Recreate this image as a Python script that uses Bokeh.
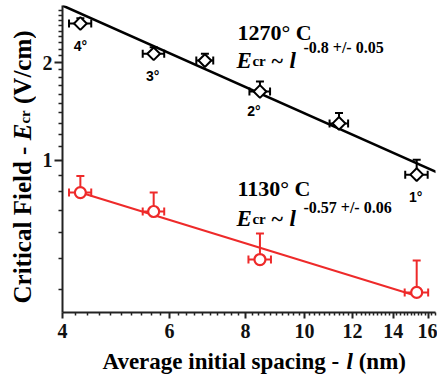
import math
from bokeh.plotting import figure
from bokeh.layouts import row, column
from bokeh.models import (ColumnDataSource, Whisker, TeeHead, Label, FixedTicker,
                          PrintfTickFormatter, Range1d)
from bokeh.core.properties import value
from bokeh.embed import file_html
from bokeh.resources import INLINE

# ---------------- data ----------------
x_ticks = [4, 6, 8, 10, 12, 14, 16]
y_ticks = [1, 2]

spacing_1270 = [4.28, 5.65, 6.86, 8.45, 11.4, 15.3]
field_1270 = [2.64, 2.13, 2.03, 1.63, 1.30, 0.904]
xerr_1270 = [0.18, 0.23, 0.22, 0.33, 0.40, 0.65]
yerr_1270 = [0.10, 0.10, 0.10, 0.12, 0.10, 0.10]
order_labels = ["4°", "3°", "", "2°", "", "1°"]

spacing_1130 = [4.28, 5.65, 8.45, 15.3]
field_1130 = [0.796, 0.696, 0.495, 0.392]
xerr_1130 = [0.18, 0.23, 0.36, 0.68]
yerr_1130 = [0.10, 0.10, 0.10, 0.10]

fit_1270_x = [4.0, 16.6]
fit_1270_y = [3.0, 0.915]
fit_1130_x = [4.28, 15.4]
fit_1130_y = [0.796, 0.381]

RED = "#ee2a2a"
SERIF = "Liberation Serif"
SANS = "Liberation Sans"

TOTAL_W, TOTAL_H = 437, 377
YLAB_W = 36
MAIN_H = 345
# frame box in page pixels
F_LEFT, F_RIGHT, F_TOP, F_BOTTOM = 62, 435, 5, 312

p = figure(width=TOTAL_W - YLAB_W, height=MAIN_H, x_axis_type="log", y_axis_type="log",
           x_range=Range1d(4, 16.43), y_range=Range1d(0.34, 3.0),
           output_backend="svg", toolbar_location=None, title=None,
           min_border_left=F_LEFT - YLAB_W, min_border_right=TOTAL_W - F_RIGHT,
           min_border_top=F_TOP, min_border_bottom=MAIN_H - F_BOTTOM)
p.outline_line_color = None
p.grid.visible = False
p.background_fill_color = "white"

# ---- axes ----
minor_x = [round(4 + 0.2 * i, 1) for i in range(63)]
minor_x = [v for v in minor_x if v not in x_ticks]
minor_y = [0.4, 0.5, 0.6, 0.7, 0.8, 0.9, 1.1, 1.2, 1.3, 1.4, 1.5, 1.6, 1.7, 1.8, 1.9,
           2.1, 2.2, 2.3, 2.4, 2.5, 2.6, 2.7, 2.8, 2.9]
p.xaxis.ticker = FixedTicker(ticks=x_ticks, minor_ticks=minor_x)
p.yaxis.ticker = FixedTicker(ticks=y_ticks, minor_ticks=minor_y)
p.xaxis.formatter = PrintfTickFormatter(format="%d")
p.yaxis.formatter = PrintfTickFormatter(format="%d")
for ax in (p.xaxis, p.yaxis):
    ax.axis_line_width = 2
    ax.axis_line_color = "#222222"
    ax.major_tick_line_width = 2
    ax.major_tick_line_color = "#222222"
    ax.minor_tick_line_width = 1.5
    ax.minor_tick_line_color = "#222222"
    ax.major_tick_in = 0
    ax.minor_tick_in = 0
    ax.major_label_text_font = SERIF
    ax.major_label_text_font_style = "bold"
    ax.major_label_text_font_size = "20px"
    ax.major_label_text_color = "#111111"
p.xaxis.major_tick_out = 6
p.xaxis.minor_tick_out = 3
p.xaxis.major_label_standoff = 5
p.yaxis.major_tick_out = 8
p.yaxis.minor_tick_out = 4
p.yaxis.major_label_standoff = 2

# ---- fit lines ----
p.line(fit_1270_x, fit_1270_y, line_color="black", line_width=2.5)
p.line(fit_1130_x, fit_1130_y, line_color=RED, line_width=2)


# ---- error bars ----
def err_source(xs, ys, xe, ye):
    return ColumnDataSource(dict(
        x=xs, y=ys,
        xl=[a - e for a, e in zip(xs, xe)],
        xu=[a + e for a, e in zip(xs, xe)],
        yu=[b + e for b, e in zip(ys, ye)],
    ))


src_b = err_source(spacing_1270, field_1270, xerr_1270, yerr_1270)
src_r = err_source(spacing_1130, field_1130, xerr_1130, yerr_1130)

for src, col in ((src_b, "black"), (src_r, RED)):
    wx = Whisker(source=src, base="y", lower="xl", upper="xu", dimension="width",
                 line_color=col, line_width=2, level="underlay",
                 lower_head=TeeHead(size=8, line_color=col, line_width=2),
                 upper_head=TeeHead(size=8, line_color=col, line_width=2))
    wy = Whisker(source=src, base="x", lower="y", upper="yu", dimension="height",
                 line_color=col, line_width=2, level="underlay",
                 lower_head=None,
                 upper_head=TeeHead(size=8, line_color=col, line_width=2))
    p.add_layout(wx)
    p.add_layout(wy)

# ---- markers ----
p.scatter(x="x", y="y", source=src_b, marker="square", angle=math.pi / 4, size=9,
          fill_color="white", line_color="black", line_width=2)
p.scatter(x="x", y="y", source=src_r, marker="circle", size=11,
          fill_color="white", line_color=RED, line_width=2.2)


def add_text(text, x, y, dx, dy, size, style="bold", font=SERIF,
             align="left", baseline="alphabetic", color="black"):
    p.add_layout(Label(x=x, y=y, x_offset=dx, y_offset=dy, text=text,
                       text_font=font, text_font_style=style,
                       text_font_size=f"{size}px",
                       text_align=align, text_baseline=baseline,
                       text_color=color))


# order labels under the 1270 points
label_offsets = [(0, -22), (-1, -22), (0, 0), (-6, -19), (0, 0), (-1, -22)]
for xv, yv, t, (ox, oy) in zip(spacing_1270, field_1270, order_labels, label_offsets):
    if t:
        add_text(t, xv, yv, ox, oy, 14, font=SANS, align="center", baseline="middle")

# ---- annotation groups ----
for (ax_, ay_), temp, expo, dE, dS in (
        ((7.76, 2.474), "1270° C", "-0.8 +/- 0.05", -28, -15),
        ((7.76, 0.819), "1130° C", "-0.57 +/- 0.06", -30, -19)):
    add_text(temp, ax_, ay_, 0, 0, 22)
    add_text("E", ax_, ay_, -1, dE, 23, style="bold italic")
    add_text("cr", ax_, ay_, 15, dE, 15)
    add_text("~", ax_, ay_, 34, dE, 22)
    add_text("l", ax_, ay_, 52, dE, 23, style="bold italic")
    add_text(expo, ax_, ay_, 66, dS, 16)


# ---- axis titles (separate text panels, in page-pixel coordinates) ----
def text_panel(w, h, xr, yr, bl, br, bt, bb):
    f = figure(width=w, height=h, x_range=Range1d(*xr), y_range=Range1d(*yr),
               output_backend="svg", toolbar_location=None, title=None,
               x_axis_location=None, y_axis_location=None,
               min_border_left=bl, min_border_right=br,
               min_border_top=bt, min_border_bottom=bb)
    f.outline_line_color = None
    f.grid.visible = False
    return f


# y title: x in page px, y measured upward from page bottom
ylab = text_panel(YLAB_W, TOTAL_H, (0, YLAB_W), (TOTAL_H - F_BOTTOM, TOTAL_H - F_TOP),
                  0, 0, F_TOP, TOTAL_H - F_BOTTOM)
yl_pieces = [("Critical Field -", 21.5, 74.0, 25, "bold"),
             ("E", 21.5, 237.2, 25, "bold italic"),
             ("cr", 24.8, 253.9, 15, "bold"),
             ("(V/cm)", 21.5, 273.5, 25, "bold")]
for t, xx, yy, sz, st in yl_pieces:
    ylab.text(x=[xx], y=[yy], text=[t], angle=math.pi / 2,
              text_font=value(SERIF), text_font_style=st,
              text_font_size=f"{sz}px", text_align="left",
              text_baseline="alphabetic", text_color="black")

# x title: x in page px, y measured upward from page bottom
XL_H = TOTAL_H - MAIN_H
xlab = text_panel(TOTAL_W - YLAB_W, XL_H, (F_LEFT, F_RIGHT), (0, XL_H),
                  F_LEFT - YLAB_W, TOTAL_W - F_RIGHT, 0, 0)
xl_pieces = [("Average initial spacing -", 102.0, "bold"),
             ("l", 346.0, "bold italic"),
             ("(nm)", 358.2, "bold")]
for t, xx, st in xl_pieces:
    xlab.text(x=[xx], y=[16], text=[t],
              text_font=value(SERIF), text_font_style=st,
              text_font_size="23px", text_align="left",
              text_baseline="alphabetic", text_color="black")

layout = row(ylab, column(p, xlab))
open("out.html", "w").write(file_html(layout, INLINE))
